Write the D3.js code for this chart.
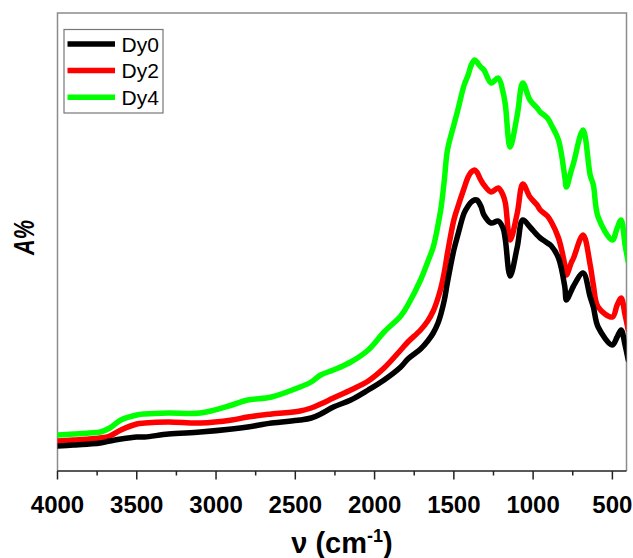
<!DOCTYPE html>
<html>
<head>
<meta charset="utf-8">
<script src="https://cdn.jsdelivr.net/npm/d3@7/dist/d3.min.js"></script>
<style>
  html, body { margin: 0; padding: 0; background: #fff; }
  svg { display: block; }
</style>
</head>
<body>
<svg id="chart" width="633" height="558"></svg>
<script>
// Wavenumber grid (cm^-1), shared by all three spectra
const wavenumbers = [4000,3900,3800,3730,3670,3600,3500,3450,3300,3100,2900,2800,2650,2470,2400,2340,2260,2150,2040,1940,1835,1790,1710,1665,1630,1600,1580,1560,1540,1500,1475,1435,1410,1390,1370,1355,1330,1310,1265,1220,1190,1175,1145,1100,1065,1020,975,955,910,885,840,800,790,760,745,685,640,620,590,500,470,445,420,400];

// Absorbance (A%, arbitrary units) for each sample
const dy0 = [6.25,6.5,6.75,7.0,7.5,8.0,8.5,8.5,9.25,9.75,10.5,11.0,12.0,12.75,13.25,14.25,16.0,17.75,20.25,22.75,26.0,28.0,30.5,32.5,34.5,37.0,39.5,42.75,47.25,55.25,59.0,64.5,66.25,67.25,67.75,67.75,66.25,64.0,62.0,62.5,60.75,57.75,48.75,56.0,62.75,61.0,59.0,58.25,57.0,56.25,53.25,46.0,42.75,45.0,46.25,49.5,43.5,41.0,36.0,31.5,33.5,35.25,31.5,27.75];
const dy2 = [7.5,7.75,8.0,8.25,8.75,10.25,11.75,12.0,12.25,12.0,12.75,13.5,14.25,15.0,15.75,16.75,18.25,20.25,22.5,25.75,30.25,32.25,35.25,37.5,40.0,43.25,46.0,49.75,54.5,62.75,66.0,70.75,73.5,74.75,75.25,74.75,72.75,71.5,69.75,70.75,69.0,67.0,57.75,64.5,71.75,68.5,66.5,65.25,63.75,62.25,58.25,51.5,49.0,52.0,53.25,59.0,51.5,46.5,41.0,38.5,41.5,43.25,39.0,35.25];
const dy4 = [9.0,9.25,9.5,9.75,10.75,12.75,14.0,14.25,14.5,14.5,16.5,17.75,18.5,21.0,22.25,24.0,25.25,27.25,30.25,34.75,38.75,41.5,47.75,52.25,56.0,61.5,66.0,72.75,80.25,86.5,90.25,96.5,99.0,101.5,102.75,102.25,101.0,100.25,97.0,98.25,94.75,91.5,81.0,89.0,97.0,92.75,90.75,89.75,88.25,86.5,82.75,73.5,71.0,75.0,77.0,85.25,74.0,71.5,63.5,57.75,60.75,62.75,56.5,52.25];

const seriesNames = ["Dy0", "Dy2", "Dy4"];
const seriesColors = ["#000000", "#ff0000", "#00ff00"];
const seriesValues = [dy0, dy2, dy4];

const xTicksMajor = [4000,3500,3000,2500,2000,1500,1000,500];
const xTicksMinor = [3750,3250,2750,2250,1750,1250,750];

const svg = d3.select("#chart");
const plotLeft = 57.5, plotRight = 626.5, plotTop = 13, plotBottom = 471;

const x = d3.scaleLinear().domain([4000, 411]).range([plotLeft, plotRight]);
const y = d3.scaleLinear().domain([0, 114.5]).range([plotBottom, plotTop]);

svg.append("defs").append("clipPath").attr("id", "plotClip")
  .append("rect").attr("x", plotLeft).attr("y", plotTop)
  .attr("width", plotRight - plotLeft).attr("height", plotBottom - plotTop);

// Plot frame (top, left, right) in grey
svg.append("path")
  .attr("d", `M${plotLeft},${plotBottom} V${plotTop} H${plotRight} V${plotBottom}`)
  .attr("fill", "none").attr("stroke", "#8c8c8c").attr("stroke-width", 1.5);

// Spectra
const line = d3.line()
  .x(d => x(d[0]))
  .y(d => y(d[1]))
  .curve(d3.curveCatmullRom.alpha(0.5));

const gLines = svg.append("g").attr("clip-path", "url(#plotClip)");
[2, 1, 0].forEach(i => {
  const pts = wavenumbers.map((w, j) => [w, seriesValues[i][j]]);
  gLines.append("path")
    .datum(pts)
    .attr("d", line)
    .attr("fill", "none")
    .attr("stroke", seriesColors[i])
    .attr("stroke-width", 5.5)
    .attr("stroke-linejoin", "round")
    .attr("stroke-linecap", "round");
});

// Bottom axis
const gx = svg.append("g").attr("transform", `translate(0,${plotBottom})`);
gx.append("line").attr("x1", plotLeft).attr("x2", plotRight)
  .attr("stroke", "#222").attr("stroke-width", 1.5);
gx.selectAll("line.minor").data(xTicksMinor).enter().append("line")
  .attr("class", "minor")
  .attr("x1", d => x(d)).attr("x2", d => x(d))
  .attr("y1", 0).attr("y2", 4.5)
  .attr("stroke", "#222").attr("stroke-width", 1.5);
gx.selectAll("line.major").data(xTicksMajor).enter().append("line")
  .attr("class", "major")
  .attr("x1", d => x(d)).attr("x2", d => x(d))
  .attr("y1", 0).attr("y2", 8.5)
  .attr("stroke", "#222").attr("stroke-width", 1.5);
gx.selectAll("text").data(xTicksMajor).enter().append("text")
  .attr("x", d => x(d)).attr("y", 41.5)
  .attr("text-anchor", "middle")
  .attr("font-family", "'Liberation Sans', Arial, sans-serif")
  .attr("font-weight", "bold").attr("font-size", 24)
  .attr("fill", "#000")
  .text(d => d);

// Axis titles
const xTitle = svg.append("text")
  .attr("x", (plotLeft + plotRight) / 2).attr("y", 553)
  .attr("text-anchor", "middle")
  .attr("font-family", "'Liberation Sans', Arial, sans-serif")
  .attr("font-weight", "bold").attr("font-size", 29)
  .attr("fill", "#000");
xTitle.append("tspan").text("\u03bd (cm");
xTitle.append("tspan").attr("font-size", 18).attr("dy", -11).text("-1");
xTitle.append("tspan").attr("dy", 11).text(")");

svg.append("text")
  .attr("transform", "translate(33.5,237.5) rotate(-90)")
  .attr("text-anchor", "middle")
  .attr("font-family", "'Liberation Sans', Arial, sans-serif")
  .attr("font-weight", "bold").attr("font-style", "italic")
  .attr("font-size", 30)
  .attr("textLength", 35).attr("lengthAdjust", "spacingAndGlyphs")
  .attr("fill", "#000")
  .text("A%");

// Legend
const legend = svg.append("g");
legend.append("rect")
  .attr("x", 64).attr("y", 29.5).attr("width", 99).attr("height", 83.5)
  .attr("fill", "#fff").attr("stroke", "#777").attr("stroke-width", 1.2);
seriesNames.forEach((name, i) => {
  const ly = 44 + i * 26.6;
  legend.append("line")
    .attr("x1", 67.5).attr("x2", 115)
    .attr("y1", ly).attr("y2", ly)
    .attr("stroke", seriesColors[i]).attr("stroke-width", 5.5);
  legend.append("text")
    .attr("x", 121.5).attr("y", ly + 7.5)
    .attr("font-family", "'Liberation Sans', Arial, sans-serif")
    .attr("font-size", 21)
    .attr("fill", "#000")
    .text(name);
});
</script>
</body>
</html>
